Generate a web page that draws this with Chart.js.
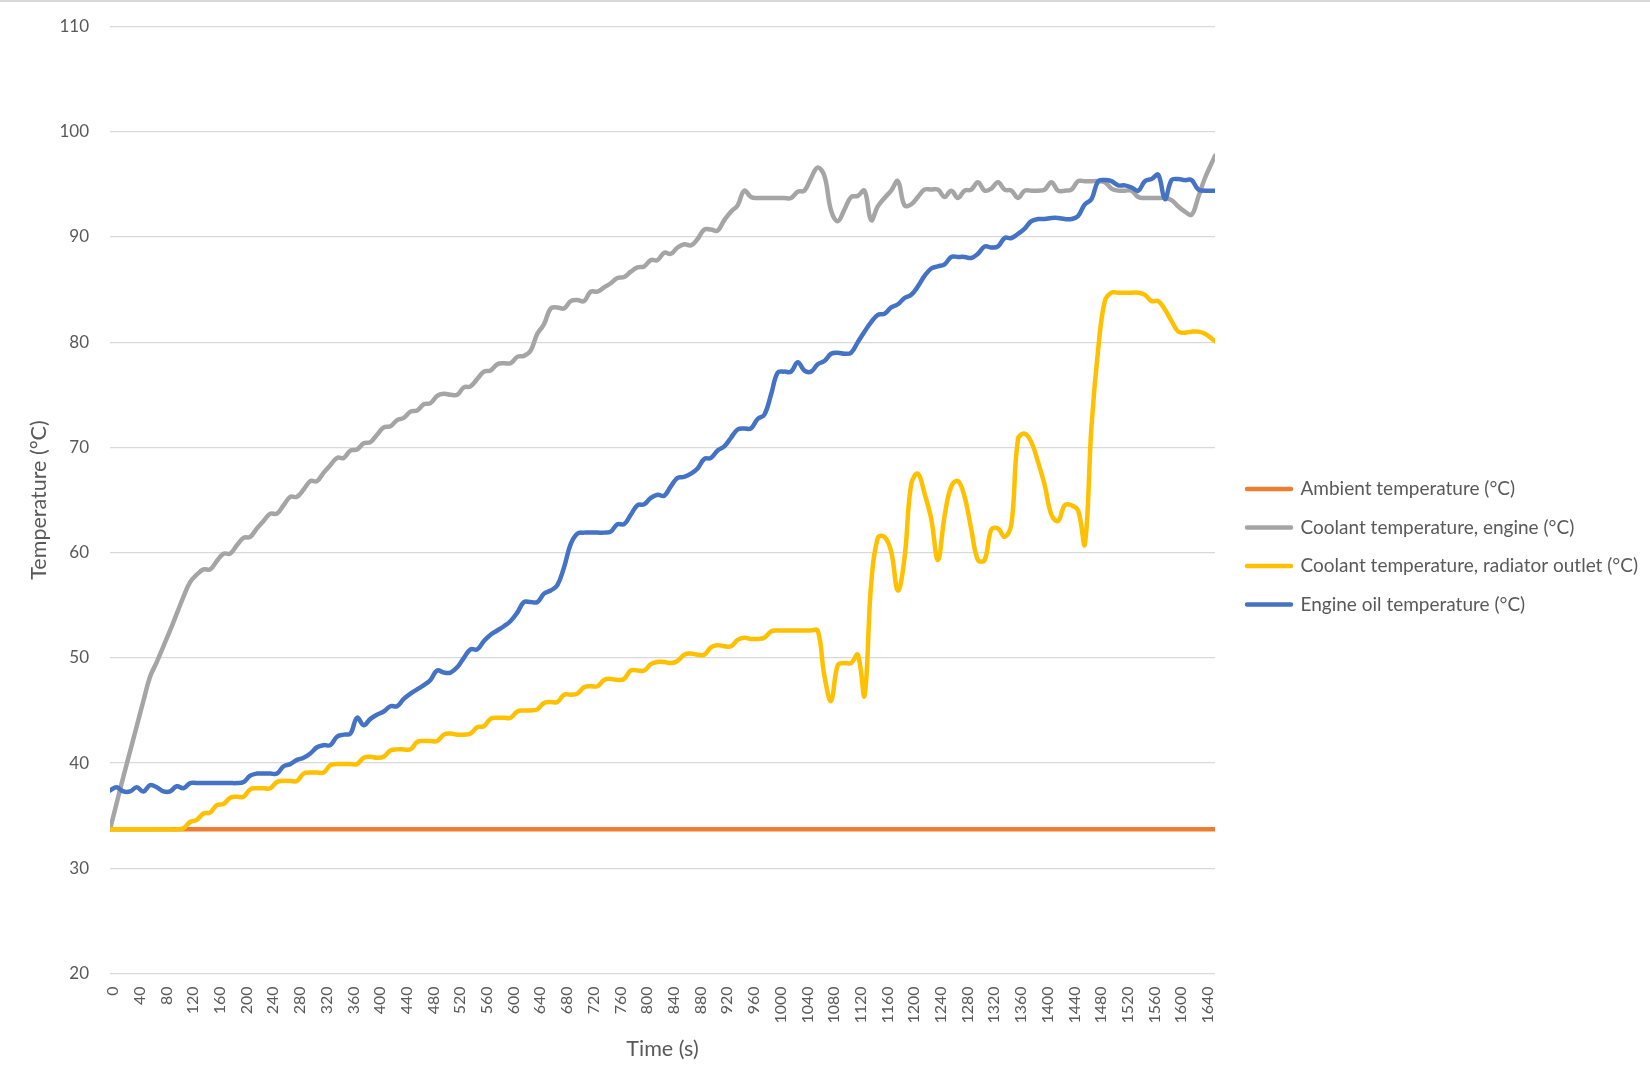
<!DOCTYPE html>
<html>
<head>
<meta charset="utf-8">
<script src="https://cdn.jsdelivr.net/npm/chart.js@4.4.1/dist/chart.umd.min.js"></script>
<style>
  html, body { margin: 0; padding: 0; background: #ffffff; }
  #wrap { position: relative; width: 1650px; height: 1067px; }
  #topline { position: absolute; left: 0; top: 0; width: 1650px; height: 2px; background: #d9d9d9; }
  canvas { display: block; }
</style>
</head>
<body>
<div id="wrap">
  <canvas id="c" width="1650" height="1067"></canvas>
  <div id="topline"></div>
</div>
<script>
const seriesNames = [
  "Ambient temperature (°C)",
  "Coolant temperature, engine (°C)",
  "Coolant temperature, radiator outlet (°C)",
  "Engine oil temperature (°C)"
];

const times = [
  0, 10, 20, 30, 40, 50, 60, 70, 80, 90,
  100, 110, 120, 130, 140, 150, 160, 170, 180, 190,
  200, 210, 220, 230, 240, 250, 260, 270, 280, 290,
  300, 310, 320, 330, 340, 350, 360, 370, 380, 390,
  400, 410, 420, 430, 440, 450, 460, 470, 480, 490,
  500, 510, 520, 530, 540, 550, 560, 570, 580, 590,
  600, 610, 620, 630, 640, 650, 660, 670, 680, 690,
  700, 710, 720, 730, 740, 750, 760, 770, 780, 790,
  800, 810, 820, 830, 840, 850, 860, 870, 880, 890,
  900, 910, 920, 930, 940, 950, 960, 970, 980, 990,
  1000, 1010, 1020, 1030, 1040, 1050, 1060, 1070, 1080, 1090,
  1100, 1110, 1120, 1130, 1140, 1150, 1160, 1170, 1180, 1190,
  1200, 1210, 1220, 1230, 1240, 1250, 1260, 1270, 1280, 1290,
  1300, 1310, 1320, 1330, 1340, 1350, 1360, 1370, 1380, 1390,
  1400, 1410, 1420, 1430, 1440, 1450, 1460, 1470, 1480, 1490,
  1500, 1510, 1520, 1530, 1540, 1550, 1560, 1570, 1580, 1590,
  1600, 1610, 1620, 1630, 1640, 1655
];

const ambient = [
  33.7, 33.7, 33.7, 33.7, 33.7, 33.7, 33.7, 33.7, 33.7, 33.7,
  33.7, 33.7, 33.7, 33.7, 33.7, 33.7, 33.7, 33.7, 33.7, 33.7,
  33.7, 33.7, 33.7, 33.7, 33.7, 33.7, 33.7, 33.7, 33.7, 33.7,
  33.7, 33.7, 33.7, 33.7, 33.7, 33.7, 33.7, 33.7, 33.7, 33.7,
  33.7, 33.7, 33.7, 33.7, 33.7, 33.7, 33.7, 33.7, 33.7, 33.7,
  33.7, 33.7, 33.7, 33.7, 33.7, 33.7, 33.7, 33.7, 33.7, 33.7,
  33.7, 33.7, 33.7, 33.7, 33.7, 33.7, 33.7, 33.7, 33.7, 33.7,
  33.7, 33.7, 33.7, 33.7, 33.7, 33.7, 33.7, 33.7, 33.7, 33.7,
  33.7, 33.7, 33.7, 33.7, 33.7, 33.7, 33.7, 33.7, 33.7, 33.7,
  33.7, 33.7, 33.7, 33.7, 33.7, 33.7, 33.7, 33.7, 33.7, 33.7,
  33.7, 33.7, 33.7, 33.7, 33.7, 33.7, 33.7, 33.7, 33.7, 33.7,
  33.7, 33.7, 33.7, 33.7, 33.7, 33.7, 33.7, 33.7, 33.7, 33.7,
  33.7, 33.7, 33.7, 33.7, 33.7, 33.7, 33.7, 33.7, 33.7, 33.7,
  33.7, 33.7, 33.7, 33.7, 33.7, 33.7, 33.7, 33.7, 33.7, 33.7,
  33.7, 33.7, 33.7, 33.7, 33.7, 33.7, 33.7, 33.7, 33.7, 33.7,
  33.7, 33.7, 33.7, 33.7, 33.7, 33.7, 33.7, 33.7, 33.7, 33.7,
  33.7, 33.7, 33.7, 33.7, 33.7, 33.7
];

const coolantEngine = [
  33.7, 36.2, 38.7, 41.1, 43.5, 45.9, 48.2, 49.6, 51.1, 52.6,
  54.2, 55.8, 57.2, 57.9, 58.4, 58.4, 59.2, 59.9, 59.9, 60.7,
  61.4, 61.5, 62.3, 63.0, 63.7, 63.7, 64.5, 65.3, 65.3, 66.0,
  66.8, 66.8, 67.6, 68.3, 69.0, 69.0, 69.7, 69.8, 70.4, 70.5,
  71.2, 71.9, 72.0, 72.6, 72.8, 73.4, 73.5, 74.1, 74.2, 74.9,
  75.1, 75.0, 75.0, 75.7, 75.8, 76.5, 77.2, 77.3, 77.9, 78.0,
  78.0, 78.6, 78.7, 79.2, 80.8, 81.7, 83.2, 83.3, 83.2, 83.9,
  84.0, 83.9, 84.8, 84.8, 85.2, 85.6, 86.1, 86.2, 86.7, 87.1,
  87.2, 87.8, 87.8, 88.5, 88.4, 89.0, 89.3, 89.2, 89.8, 90.7,
  90.7, 90.6, 91.6, 92.4, 93.0, 94.4, 93.8, 93.7, 93.7, 93.7,
  93.7, 93.7, 93.7, 94.3, 94.4, 95.6, 96.6, 95.8, 92.5, 91.5,
  92.6, 93.8, 93.9, 94.4, 91.6, 92.9, 93.7, 94.4, 95.3, 93.0,
  93.1, 93.8, 94.5, 94.5, 94.5, 93.8, 94.4, 93.7, 94.4, 94.5,
  95.2, 94.4, 94.6, 95.2, 94.5, 94.4, 93.7, 94.4, 94.4, 94.4,
  94.5, 95.2, 94.4, 94.4, 94.5, 95.3, 95.3, 95.3, 95.3, 95.2,
  94.6, 94.4, 94.4, 94.4, 93.8, 93.7, 93.7, 93.7, 93.7, 93.5,
  92.9, 92.4, 92.1, 93.8, 95.6, 97.7
];

const coolantRadiator = [
  33.7, 33.7, 33.7, 33.7, 33.7, 33.7, 33.7, 33.7, 33.7, 33.7,
  33.7, 33.8, 34.4, 34.6, 35.2, 35.3, 36.0, 36.1, 36.7, 36.8,
  36.8, 37.5, 37.6, 37.6, 37.6, 38.2, 38.3, 38.3, 38.3, 39.0,
  39.1, 39.1, 39.1, 39.8, 39.9, 39.9, 39.9, 39.9, 40.5, 40.6,
  40.5, 40.6, 41.2, 41.3, 41.3, 41.3, 42.0, 42.1, 42.1, 42.1,
  42.7, 42.8, 42.7, 42.7, 42.8, 43.4, 43.5, 44.2, 44.3, 44.3,
  44.3, 44.9, 45.0, 45.0, 45.1, 45.7, 45.8, 45.8, 46.5, 46.5,
  46.6, 47.2, 47.3, 47.3, 47.9, 48.0, 47.9, 48.0, 48.8, 48.8,
  48.8, 49.4, 49.6, 49.6, 49.5, 49.7, 50.3, 50.4, 50.3, 50.3,
  51.0, 51.2, 51.1, 51.1, 51.7, 51.9, 51.8, 51.8, 51.9, 52.5,
  52.6, 52.6, 52.6, 52.6, 52.6, 52.6, 52.6, 48.3, 45.9, 49.3,
  49.5, 49.5, 50.3, 46.4, 57.0, 61.4, 61.5, 60.1, 56.4, 59.5,
  66.5, 67.5, 65.6, 63.2, 59.3, 63.5, 66.3, 66.8, 65.3, 62.2,
  59.3, 59.3, 62.2, 62.3, 61.5, 62.7, 70.8, 71.3, 70.5, 68.6,
  66.4, 63.6, 63.0, 64.5, 64.5, 64.0, 60.8, 72.0, 79.3, 83.9,
  84.7, 84.7, 84.7, 84.7, 84.7, 84.5, 83.9, 83.9, 83.1, 82.0,
  81.0, 80.9, 81.0, 81.0, 80.8, 80.1
];

const engineOil = [
  37.4, 37.7, 37.3, 37.3, 37.7, 37.3, 37.9, 37.7, 37.3, 37.3,
  37.8, 37.6, 38.1, 38.1, 38.1, 38.1, 38.1, 38.1, 38.1, 38.1,
  38.2, 38.8, 39.0, 39.0, 39.0, 39.0, 39.7, 39.9, 40.3, 40.5,
  40.9, 41.5, 41.7, 41.7, 42.5, 42.7, 42.8, 44.3, 43.6, 44.2,
  44.6, 44.9, 45.4, 45.4, 46.1, 46.6, 47.0, 47.4, 47.9, 48.8,
  48.6, 48.6, 49.1, 50.0, 50.8, 50.8, 51.6, 52.2, 52.6, 53.0,
  53.5, 54.3, 55.3, 55.3, 55.3, 56.1, 56.4, 56.9, 58.6, 60.8,
  61.8, 61.9, 61.9, 61.9, 61.9, 62.0, 62.7, 62.7, 63.6, 64.5,
  64.6, 65.2, 65.5, 65.4, 66.3, 67.1, 67.2, 67.5, 68.0, 68.9,
  69.0, 69.7, 70.1, 70.9, 71.7, 71.8, 71.8, 72.7, 73.1, 75.0,
  77.1, 77.2, 77.2, 78.1, 77.3, 77.2, 77.9, 78.2, 78.9, 79.0,
  78.9, 79.0, 80.0, 81.0, 81.9, 82.6, 82.7, 83.3, 83.6, 84.2,
  84.5, 85.3, 86.3, 87.0, 87.2, 87.4, 88.1, 88.1, 88.1, 88.0,
  88.4, 89.1, 89.0, 89.1, 89.9, 89.9, 90.3, 90.8, 91.5, 91.7,
  91.7, 91.8, 91.8, 91.7, 91.7, 92.0, 93.1, 93.6, 95.3, 95.4,
  95.3, 94.9, 94.9, 94.7, 94.4, 95.3, 95.5, 95.9, 93.6, 95.4,
  95.5, 95.4, 95.4, 94.5, 94.4, 94.4
];

const seriesValues = [ambient, coolantEngine, coolantRadiator, engineOil];
const seriesColors = ["#ED7D31", "#A5A5A5", "#FFC000", "#4472C4"];

const yTickMin = 20, yTickMax = 110, yTickStep = 10;
const xTickStep = 40, xMax = 1655;

const FONT = "Lato, 'Open Sans', sans-serif";
const TEXT = "#595959";

const datasets = seriesValues.map((vals, i) => ({
  label: seriesNames[i],
  data: times.map((t, k) => ({ x: t, y: vals[k] })),
  borderColor: seriesColors[i],
  backgroundColor: seriesColors[i],
  borderWidth: 4.5,
  pointRadius: 0,
  pointHoverRadius: 0,
  tension: 0.4,
  borderCapStyle: "round",
  borderJoinStyle: "round",
  order: seriesValues.length - i
}));

const legendNudge = {
  id: "legendNudge",
  afterLayout(chart) {
    const l = chart.legend;
    if (l) { l.left += 12.5; l.right = chart.width; }
  }
};

new Chart(document.getElementById("c"), {
  type: "line",
  data: { datasets },
  plugins: [legendNudge],
  options: {
    responsive: false,
    animation: false,
    devicePixelRatio: 1,
    layout: { padding: { top: 26.5, left: 0, right: 55, bottom: 0 } },
    plugins: {
      tooltip: { enabled: false },
      legend: {
        position: "right",
        maxWidth: 380,
        labels: {
          boxWidth: 44,
          boxHeight: 0,
          padding: 19.5,
          color: TEXT,
          font: { family: FONT, size: 19 },
          sort: (a, b) => a.datasetIndex - b.datasetIndex
        }
      }
    },
    scales: {
      x: {
        type: "linear",
        min: 0,
        max: xMax,
        grid: { display: false, drawTicks: false },
        border: { display: false },
        ticks: {
          stepSize: xTickStep,
          includeBounds: false,
          autoSkip: false,
          minRotation: 90,
          maxRotation: 90,
          padding: 13,
          labelOffset: 3,
          color: TEXT,
          font: { family: FONT, size: 16 },
          callback: (v) => String(v)
        },
        title: {
          display: true,
          text: "Time (s)",
          color: TEXT,
          font: { family: FONT, size: 21.5 },
          padding: { top: 0, bottom: 5 }
        },
        afterFit: (s) => { s.height = 93.5; }
      },
      y: {
        min: yTickMin,
        max: yTickMax,
        grid: { color: "#d9d9d9", lineWidth: 1.3, drawTicks: false },
        border: { display: false },
        ticks: {
          stepSize: yTickStep,
          padding: 21,
          color: TEXT,
          font: { family: FONT, size: 17 }
        },
        title: {
          display: true,
          text: "Temperature (°C)",
          color: TEXT,
          font: { family: FONT, size: 21.5 },
          padding: { top: 26, bottom: 0 }
        },
        afterFit: (s) => { s.width = 110; s.paddingTop = 0; s.paddingBottom = 0; }
      }
    }
  }
});
</script>
</body>
</html>
